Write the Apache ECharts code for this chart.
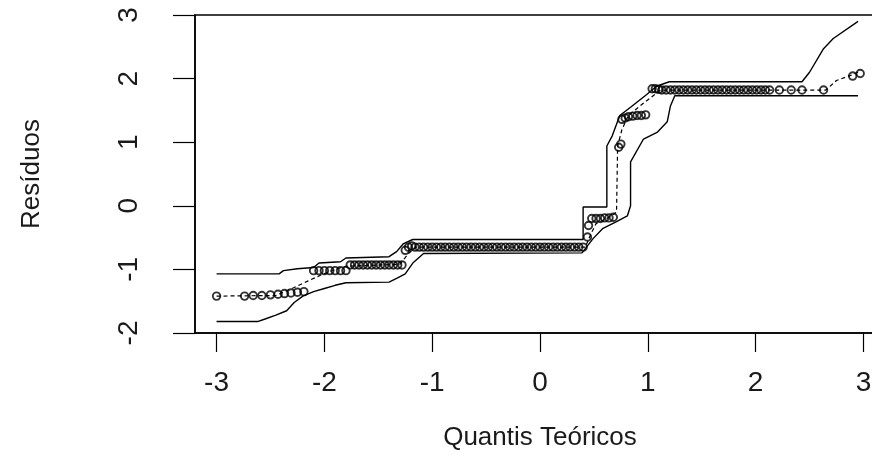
<!DOCTYPE html>
<html>
<head>
<meta charset="utf-8">
<script src="https://cdn.jsdelivr.net/npm/echarts@6/dist/echarts.min.js"></script>
<style>
html,body{margin:0;padding:0;background:#fff;}
#chart{width:872px;height:463px;}
</style>
</head>
<body>
<div id="chart"></div>
<script>
// Tick labels
const xTicks = [-3, -2, -1, 0, 1, 2, 3];
const yTicks = [-2, -1, 0, 1, 2, 3];

// Upper envelope
const upperX = [-3.00, -2.42, -2.38, -2.25, -2.10, -2.05, -1.85, -1.80, -1.40, -1.33, -1.27, -1.18, 0.40, 0.40, 0.62, 0.62, 0.67, 0.74, 0.84, 0.99, 1.08, 1.20, 2.43, 2.50, 2.63, 2.72, 2.95];
const upperY = [-1.07, -1.07, -1.02, -0.99, -0.97, -0.90, -0.88, -0.82, -0.80, -0.72, -0.60, -0.53, -0.53, -0.02, -0.02, 0.94, 1.10, 1.42, 1.55, 1.75, 1.88, 1.95, 1.95, 2.10, 2.47, 2.63, 2.90];

// Lower envelope
const lowerX = [-3.00, -2.62, -2.55, -2.45, -2.35, -2.28, -2.20, -2.10, -2.00, -1.90, -1.80, -1.40, -1.33, -1.25, -1.18, -1.08, 0.39, 0.49, 0.58, 0.71, 0.81, 0.84, 0.84, 0.96, 1.09, 1.18, 1.21, 1.25, 2.95];
const lowerY = [-1.82, -1.82, -1.78, -1.72, -1.65, -1.52, -1.42, -1.35, -1.30, -1.25, -1.21, -1.20, -1.14, -1.07, -0.90, -0.75, -0.74, -0.52, -0.36, -0.25, -0.16, 0.00, 0.69, 1.05, 1.16, 1.32, 1.57, 1.73, 1.73];

// Median of simulated envelopes (dashed)
const medianX = [-3.00, -2.45, -2.30, -2.15, -2.02, -1.90, -1.80, -1.30, -1.22, -1.15, 0.42, 0.47, 0.52, 0.62, 0.71, 0.72, 0.76, 0.82, 0.95, 1.12, 2.65, 2.75, 2.88, 2.95];
const medianY = [-1.42, -1.41, -1.30, -1.18, -1.08, -1.00, -0.95, -0.92, -0.75, -0.65, -0.65, -0.45, -0.28, -0.20, -0.10, 0.94, 1.20, 1.42, 1.60, 1.82, 1.82, 1.97, 2.05, 2.10];

// Observed residuals vs theoretical quantiles
const pointX = [
  -3.00, -2.74, -2.66, -2.58, -2.50, -2.43, -2.37, -2.31, -2.25, -2.19,
  -2.10, -2.05, -2.00, -1.95, -1.90, -1.85, -1.80,
  -1.76, -1.72, -1.68, -1.64, -1.60, -1.56, -1.52, -1.48, -1.44, -1.40, -1.36, -1.32, -1.28,
  -1.25, -1.22, -1.19,
  -1.16, -1.12, -1.08, -1.04, -1.00, -0.96, -0.92, -0.88, -0.84, -0.80, -0.76, -0.72, -0.68, -0.64,
  -0.60, -0.56, -0.52, -0.48, -0.44, -0.40, -0.36, -0.32, -0.28, -0.24, -0.20, -0.16, -0.12, -0.08,
  -0.04, 0.00, 0.04, 0.08, 0.12, 0.16, 0.20, 0.24, 0.28, 0.32, 0.36, 0.40,
  0.44, 0.45, 0.48, 0.52, 0.56, 0.60, 0.64, 0.68,
  0.73, 0.75,
  0.76, 0.79, 0.82, 0.86, 0.90, 0.94, 0.98,
  1.04, 1.07, 1.10, 1.13, 1.17, 1.21, 1.25, 1.29, 1.33, 1.37, 1.41, 1.45, 1.49, 1.53, 1.57,
  1.61, 1.65, 1.69, 1.73, 1.77, 1.81, 1.85, 1.89, 1.93, 1.97, 2.01, 2.05, 2.09,
  2.13, 2.22, 2.33, 2.43, 2.63, 2.90, 2.97
];
const pointY = [
  -1.42, -1.42, -1.41, -1.41, -1.40, -1.39, -1.38, -1.37, -1.36, -1.35,
  -1.02, -1.02, -1.02, -1.02, -1.02, -1.02, -1.02,
  -0.93, -0.93, -0.93, -0.93, -0.93, -0.93, -0.93, -0.93, -0.93, -0.93, -0.93, -0.93, -0.93,
  -0.70, -0.65, -0.63,
  -0.65, -0.65, -0.65, -0.65, -0.65, -0.65, -0.65, -0.65, -0.65, -0.65, -0.65, -0.65, -0.65, -0.65,
  -0.65, -0.65, -0.65, -0.65, -0.65, -0.65, -0.65, -0.65, -0.65, -0.65, -0.65, -0.65, -0.65, -0.65,
  -0.65, -0.65, -0.65, -0.65, -0.65, -0.65, -0.65, -0.65, -0.65, -0.65, -0.65, -0.65,
  -0.49, -0.31, -0.20, -0.20, -0.20, -0.19, -0.19, -0.18,
  0.92, 0.97,
  1.36, 1.38, 1.40, 1.41, 1.42, 1.42, 1.43,
  1.84, 1.84, 1.83, 1.82, 1.82, 1.82, 1.82, 1.82, 1.82, 1.82, 1.82, 1.82, 1.82, 1.82, 1.82,
  1.82, 1.82, 1.82, 1.82, 1.82, 1.82, 1.82, 1.82, 1.82, 1.82, 1.82, 1.82, 1.82,
  1.82, 1.82, 1.82, 1.82, 1.82, 2.04, 2.08
];

const zip = (xs, ys) => xs.map((x, i) => [x, ys[i]]);

const chart = echarts.init(document.getElementById('chart'), null, {renderer: 'canvas'});
const txt = '#1a1a1a';
chart.setOption({
  animation: false,
  backgroundColor: '#fff',
  grid: {
    left: 195, top: 15, right: -13, bottom: 130,
    outerBoundsMode: 'none', containLabel: false,
    show: true, borderColor: '#000', borderWidth: 1.5, backgroundColor: 'transparent'
  },
  xAxis: {
    type: 'value', min: -3.2, max: 3.2,
    name: 'Quantis Teóricos', nameLocation: 'middle', nameGap: 92,
    nameTextStyle: {fontFamily: 'Liberation Sans', fontSize: 26, color: txt},
    axisLine: {show: true, onZero: false, lineStyle: {color: '#000', width: 1.5}},
    axisTick: {show: true, length: 19, customValues: xTicks, lineStyle: {color: '#000', width: 1.2}},
    axisLabel: {show: true, customValues: xTicks, fontFamily: 'Liberation Sans', fontSize: 28, color: txt, margin: 36},
    splitLine: {show: false}
  },
  yAxis: {
    type: 'value', min: -2, max: 3, interval: 1,
    name: 'Resíduos', nameLocation: 'middle', nameGap: 150,
    nameTextStyle: {fontFamily: 'Liberation Sans', fontSize: 26, color: txt},
    axisLine: {show: true, onZero: false, lineStyle: {color: '#000', width: 1.5}},
    axisTick: {show: true, length: 22, lineStyle: {color: '#000', width: 1.2}},
    axisLabel: {show: true, rotate: 90, fontFamily: 'Liberation Sans', fontSize: 28, color: txt, margin: 52},
    splitLine: {show: false}
  },
  series: [
    {
      type: 'line', name: 'upper', data: zip(upperX, upperY), showSymbol: false,
      lineStyle: {color: '#000', width: 1.4}, silent: true
    },
    {
      type: 'line', name: 'lower', data: zip(lowerX, lowerY), showSymbol: false,
      lineStyle: {color: '#000', width: 1.4}, silent: true
    },
    {
      type: 'line', name: 'median', data: zip(medianX, medianY), showSymbol: false,
      lineStyle: {color: '#000', width: 1.2, type: [4, 3]}, silent: true
    },
    {
      type: 'scatter', name: 'points', data: zip(pointX, pointY),
      symbol: 'circle', symbolSize: 7.5,
      itemStyle: {color: 'rgba(0,0,0,0)', borderColor: '#000', borderWidth: 1.9},
      silent: true
    }
  ]
});
</script>
</body>
</html>
